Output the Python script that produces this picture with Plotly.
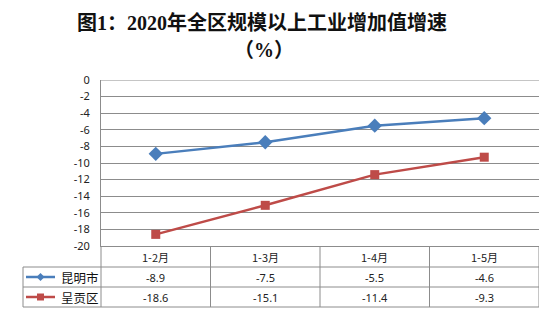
import plotly.graph_objects as go

categories = ["1-2月", "1-3月", "1-4月", "1-5月"]
series_names = ["昆明市", "呈贡区"]
kunming = [-8.9, -7.5, -5.5, -4.6]
chenggong = [-18.6, -15.1, -11.4, -9.3]
y_ticks = [0, -2, -4, -6, -8, -10, -12, -14, -16, -18, -20]

W, H = 554, 324
L, R, T, B = 101, 539, 80, 246
PW, PH = R - L, B - T

def px(x):
    return (x - L) / PW

def py(y):
    return (B - y) / PH

blue = "#4A7EBB"
red = "#BE4B48"
grid = "#8C8C8C"
font_fam = "Noto Sans, Noto Sans CJK SC, sans-serif"

xs = list(range(len(categories)))
fig = go.Figure()
fig.add_trace(go.Scatter(x=xs, y=kunming, mode="lines+markers", name=series_names[0],
                         line=dict(color=blue, width=2.5),
                         marker=dict(symbol="diamond", size=11, color=blue)))
fig.add_trace(go.Scatter(x=xs, y=chenggong, mode="lines+markers", name=series_names[1],
                         line=dict(color=red, width=2.5),
                         marker=dict(symbol="square", size=9, color=red)))

shapes = []
# table horizontal lines
for yy in [267, 287, 307]:
    shapes.append(dict(type="line", xref="paper", yref="paper", x0=px(23), x1=px(R),
                       y0=py(yy), y1=py(yy), line=dict(color=grid, width=1)))
# table vertical lines
shapes.append(dict(type="line", xref="paper", yref="paper", x0=px(23), x1=px(23),
                   y0=py(267), y1=py(307), line=dict(color=grid, width=1)))
shapes.append(dict(type="line", xref="paper", yref="paper", x0=0, x1=0,
                   y0=0, y1=py(307), line=dict(color=grid, width=1)))
for i in range(len(categories)):
    xb = i + 0.5
    shapes.append(dict(type="line", xref="x", yref="paper", x0=xb, x1=xb,
                       y0=0, y1=py(307), line=dict(color=grid, width=1)))
# top gridline at 0
shapes.append(dict(type="line", xref="paper", yref="y", x0=0, x1=1, y0=0, y1=0,
                   line=dict(color=grid, width=1)))

# legend keys in table
for name, yy, col, sym in [(series_names[0], 277, blue, "diamond"), (series_names[1], 297, red, "square")]:
    shapes.append(dict(type="line", xref="paper", yref="paper", x0=px(26), x1=px(55),
                       y0=py(yy), y1=py(yy), line=dict(color=col, width=2.5)))
    cx = 40.5
    if sym == "diamond":
        path = f"M {px(cx)},{py(yy-4)} L {px(cx+4)},{py(yy)} L {px(cx)},{py(yy+4)} L {px(cx-4)},{py(yy)} Z"
    else:
        path = f"M {px(cx-3.5)},{py(yy-3.5)} L {px(cx+3.5)},{py(yy-3.5)} L {px(cx+3.5)},{py(yy+3.5)} L {px(cx-3.5)},{py(yy+3.5)} Z"
    shapes.append(dict(type="path", xref="paper", yref="paper", path=path,
                       fillcolor=col, line=dict(color=col, width=0)))

annotations = []
annotations.append(dict(text="<b>图1：2020年全区规模以上工业增加值增速</b>", xref="paper", yref="paper",
                        x=px(262), y=py(22), xanchor="center", yanchor="middle", showarrow=False,
                        font=dict(family="Liberation Serif, Noto Sans CJK SC, serif", size=20, color="#111")))
annotations.append(dict(text="<b>（%）</b>", xref="paper", yref="paper",
                        x=px(264), y=py(50), xanchor="center", yanchor="middle", showarrow=False,
                        font=dict(family="Liberation Serif, Noto Sans CJK SC, serif", size=20, color="#111")))
for i, c in enumerate(categories):
    annotations.append(dict(text=c, xref="x", yref="paper", x=i, y=py(256.5),
                            xanchor="center", yanchor="middle", showarrow=False,
                            font=dict(family="Noto Sans CJK SC", size=11, color="#222")))
    annotations.append(dict(text=f"{kunming[i]:.1f}", xref="x", yref="paper", x=i, y=py(277.5),
                            xanchor="center", yanchor="middle", showarrow=False,
                            font=dict(family=font_fam, size=11, color="#222")))
    annotations.append(dict(text=f"{chenggong[i]:.1f}", xref="x", yref="paper", x=i, y=py(297.5),
                            xanchor="center", yanchor="middle", showarrow=False,
                            font=dict(family=font_fam, size=11, color="#222")))
for name, yy in [(series_names[0], 277), (series_names[1], 297)]:
    annotations.append(dict(text=name, xref="paper", yref="paper", x=px(59), y=py(yy),
                            xanchor="left", yanchor="middle", showarrow=False,
                            font=dict(family="Noto Sans CJK SC", size=12.5, color="#111")))

fig.update_layout(
    width=W, height=H,
    margin=dict(l=L, r=W - R, t=T, b=H - B, pad=0),
    paper_bgcolor="white", plot_bgcolor="white",
    showlegend=False,
    shapes=shapes, annotations=annotations,
    xaxis=dict(range=[-0.5, len(categories) - 0.5], showgrid=False, zeroline=False,
               showticklabels=False, showline=True, linecolor=grid, linewidth=1,
               fixedrange=True),
    yaxis=dict(range=[-20, 0], tickvals=y_ticks, ticktext=[str(v) for v in y_ticks],
               showgrid=True, gridcolor=grid, gridwidth=1, zeroline=False,
               showline=True, linecolor=grid, linewidth=1, ticks="",
               ticklabelstandoff=8,
               tickfont=dict(family=font_fam, size=11, color="#222"), fixedrange=True),
)

fig.write_html("out.html")
